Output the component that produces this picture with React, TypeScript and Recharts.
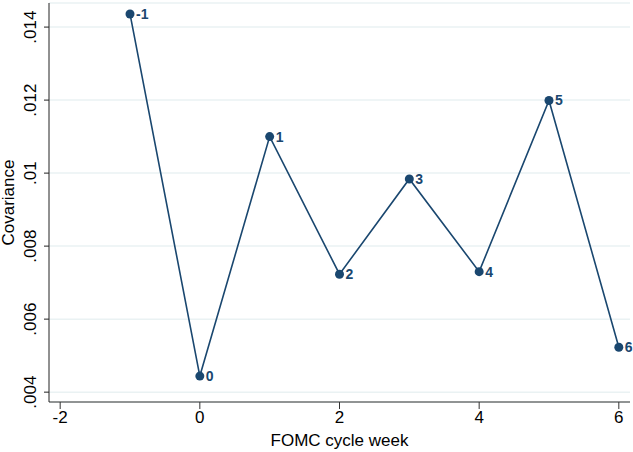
import { LineChart, Line, XAxis, YAxis, CartesianGrid, LabelList } from "recharts";

const weeks = [-1, 0, 1, 2, 3, 4, 5, 6];
const covariance = [0.01436, 0.00444, 0.011, 0.00723, 0.00984, 0.0073, 0.01199, 0.00523];
const xTicks = [-2, 0, 2, 4, 6];
const yTicks = [0.004, 0.006, 0.008, 0.01, 0.012, 0.014];

const data = weeks.map((w, i) => ({ week: w, cov: covariance[i] }));

const NAVY = "#1a476f";
const FONT = "'Liberation Sans', Arial, sans-serif";

const fmtY = (v: number) => {
  const s = v.toFixed(3).replace(/0+$/, "");
  return s.replace(/^0/, "");
};

function YTick(props: any) {
  const { x, y, payload } = props;
  const tx = x - 6;
  return (
    <text
      x={tx}
      y={y}
      transform={`rotate(-90 ${tx} ${y})`}
      textAnchor="middle"
      fontSize={17}
      fontFamily={FONT}
      fill="#000"
    >
      {fmtY(payload.value)}
    </text>
  );
}

function PointLabel(props: any) {
  const { x, y, value } = props;
  return (
    <text
      x={x + 6}
      y={y + 5}
      fontSize={14}
      fontWeight="bold"
      fontFamily={FONT}
      fill={NAVY}
    >
      {value}
    </text>
  );
}

export default function App() {
  return (
    <div style={{ position: "absolute", left: 0, top: 0, background: "#fff" }}>
      <LineChart
        width={633}
        height={452}
        data={data}
        margin={{ top: 3, right: 3, bottom: 0, left: 0 }}
      >
        <CartesianGrid vertical={false} stroke="#eaf2f3" strokeWidth={1.5} />
        <XAxis
          type="number"
          dataKey="week"
          domain={[-2.16, 6.16]}
          ticks={xTicks}
          allowDataOverflow
          height={50}
          stroke="#333"
          tickSize={7}
          tick={{ fontSize: 17, fill: "#000", fontFamily: FONT }}
          label={{
            value: "FOMC cycle week",
            position: "insideBottom",
            offset: 6,
            fontSize: 17,
            fill: "#000",
            fontFamily: FONT,
          }}
        />
        <YAxis
          type="number"
          domain={[0.00373, 0.01466]}
          ticks={yTicks}
          allowDataOverflow
          width={49}
          stroke="#222"
          tickSize={5}
          tick={<YTick />}
          label={{
            value: "Covariance",
            angle: -90,
            position: "insideLeft",
            offset: 0,
            dx: 8,
            fontSize: 17,
            fill: "#000",
            fontFamily: FONT,
            style: { textAnchor: "middle" },
          }}
        />
        <Line
          type="linear"
          dataKey="cov"
          stroke={NAVY}
          strokeWidth={1.6}
          dot={{ r: 4.5, fill: NAVY, stroke: NAVY, strokeWidth: 0 }}
          isAnimationActive={false}
        >
          <LabelList dataKey="week" content={<PointLabel />} />
        </Line>
      </LineChart>
    </div>
  );
}
